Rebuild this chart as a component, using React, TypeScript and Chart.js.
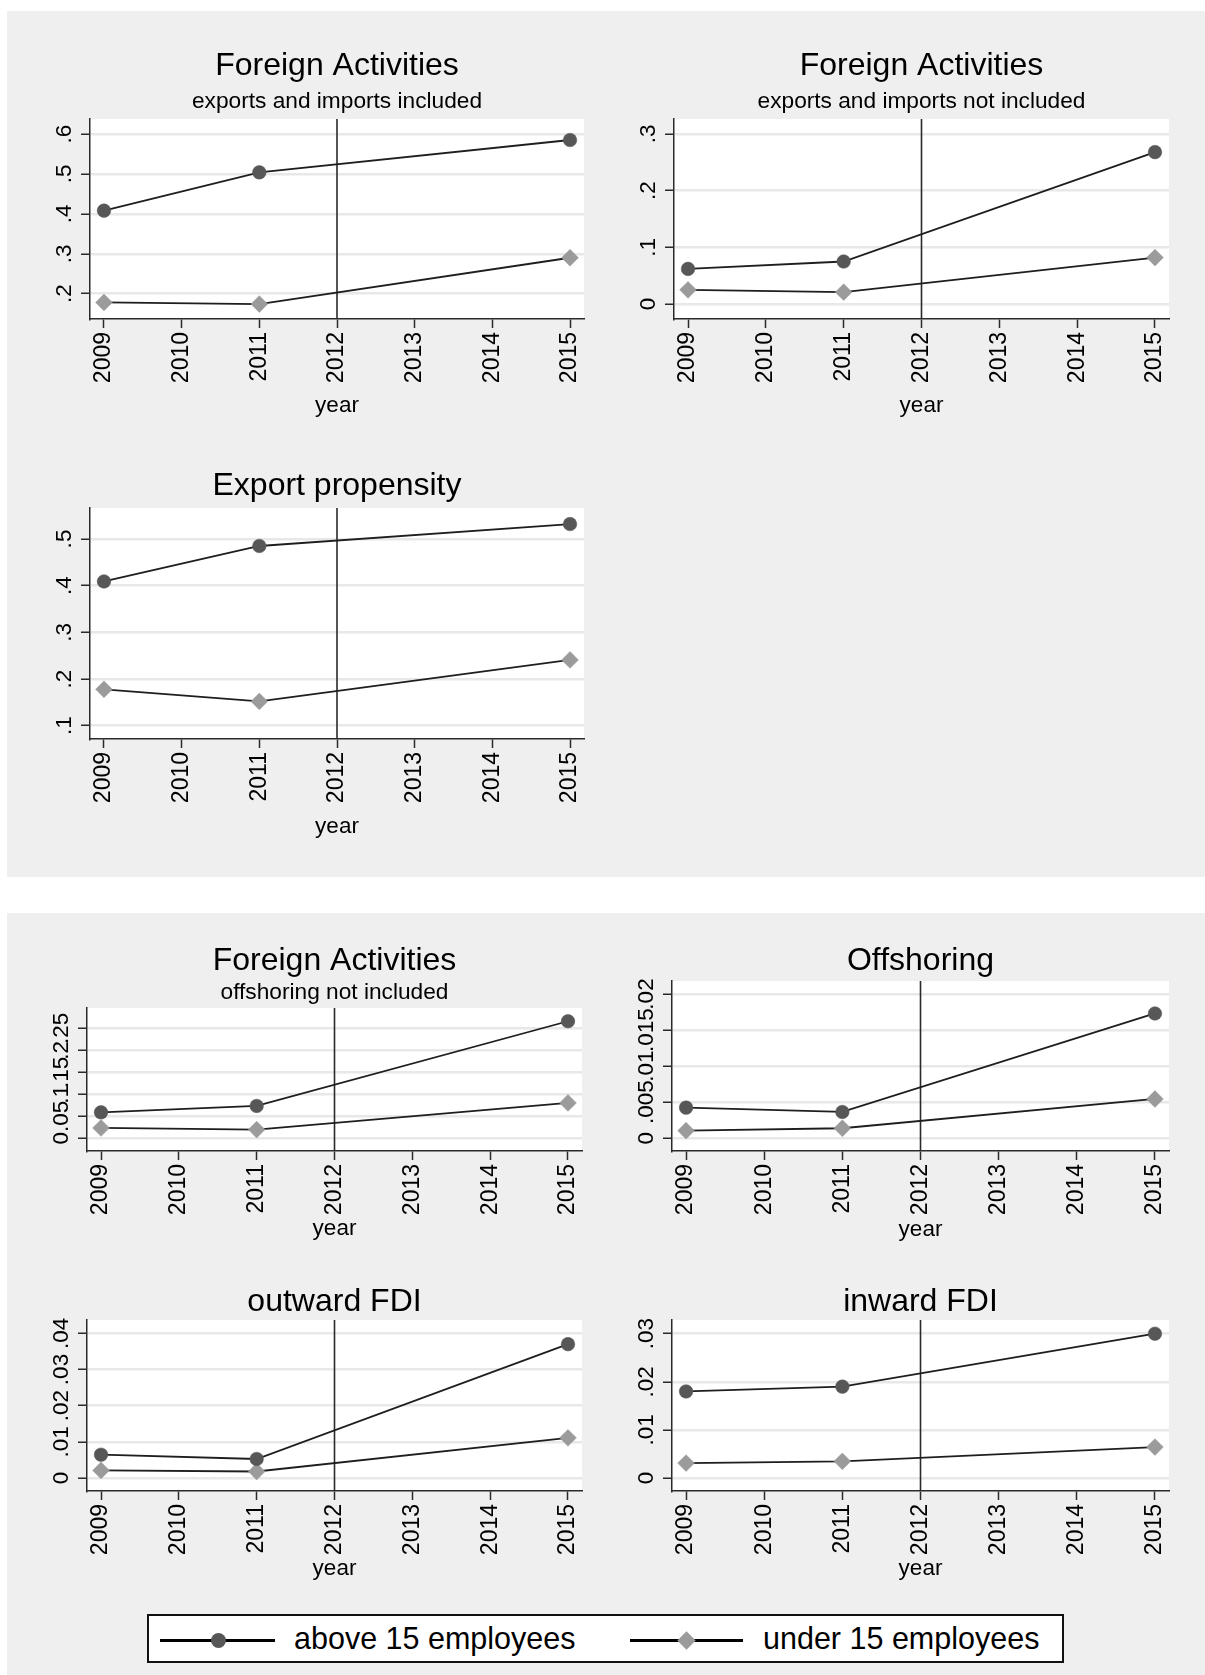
import React, { useEffect, useRef } from 'react';
import { Chart, registerables } from 'chart.js';

Chart.register(...registerables);

// ---------------- data ----------------
const years = [2009, 2011, 2015];
const xTickYears = [2009, 2010, 2011, 2012, 2013, 2014, 2015];
const referenceYear = 2012;
const seriesLabels = ['above 15 employees', 'under 15 employees'];

const faInclAbove = [0.408, 0.504, 0.585];
const faInclUnder = [0.178, 0.174, 0.29];
const faInclTicks = [0.2, 0.3, 0.4, 0.5, 0.6];
const faInclTickLabels = ['.2', '.3', '.4', '.5', '.6'];

const faNotInclAbove = [0.062, 0.075, 0.268];
const faNotInclUnder = [0.025, 0.021, 0.082];
const faNotInclTicks = [0, 0.1, 0.2, 0.3];
const faNotInclTickLabels = ['0', '.1', '.2', '.3'];

const exportAbove = [0.409, 0.485, 0.532];
const exportUnder = [0.178, 0.152, 0.241];
const exportTicks = [0.1, 0.2, 0.3, 0.4, 0.5];
const exportTickLabels = ['.1', '.2', '.3', '.4', '.5'];

const faNoOffAbove = [0.059, 0.0735, 0.266];
const faNoOffUnder = [0.0235, 0.0197, 0.0803];
const faNoOffTicks = [0, 0.05, 0.1, 0.15, 0.2, 0.25];
const faNoOffTickLabels = ['0', '.05', '.1', '.15', '.2', '.25'];

const offshoringAbove = [0.00425, 0.00365, 0.0173];
const offshoringUnder = [0.00106, 0.00139, 0.00545];
const offshoringTicks = [0, 0.005, 0.01, 0.015, 0.02];
const offshoringTickLabels = ['0', '.005', '.01', '.015', '.02'];

const outFdiAbove = [0.00645, 0.00525, 0.037];
const outFdiUnder = [0.0021, 0.0018, 0.0111];
const outFdiTicks = [0, 0.01, 0.02, 0.03, 0.04];
const outFdiTickLabels = ['0', '.01', '.02', '.03', '.04'];

const inFdiAbove = [0.018, 0.019, 0.03];
const inFdiUnder = [0.0031, 0.00347, 0.00644];
const inFdiTicks = [0, 0.01, 0.02, 0.03];
const inFdiTickLabels = ['0', '.01', '.02', '.03'];

// ---------------- styles ----------------
const FONT = '"Liberation Sans", Arial, Helvetica, sans-serif';
const GRAY_BG = '#efefef';
const GRID = '#e8e8e8';
const AXIS = '#2a2a2a';
const TEXT = '#000000';
const LINE = '#1e1e1e';
const ABOVE_COLOR = '#575757';
const UNDER_COLOR = '#9b9b9b';
const TITLE_SIZE = 32;
const SUB_SIZE = 22.7;
const TICK_SIZE = 23;
const Y_TICK_SIZE = 22.5;
const AXIS_TITLE_SIZE = 22.5;
const YW = 70;
const PR = 20;
const X_MIN = 2008.82;
const X_MAX = 2015.18;

type Panel = {
  key: string;
  title: string;
  subtitle?: string;
  above: number[];
  under: number[];
  yTicks: number[];
  yLabels: string[];
  yMin: number;
  yMax: number;
  area: { l: number; r: number; t: number; b: number };
  canvasTop: number;
  titleMid: number;
  subMid?: number;
  yearMid: number;
};

const panels: Panel[] = [
  {
    key: 'fa1', title: 'Foreign Activities', subtitle: 'exports and imports included',
    above: faInclAbove, under: faInclUnder, yTicks: faInclTicks, yLabels: faInclTickLabels,
    yMin: 0.1366, yMax: 0.6376,
    area: { l: 90, r: 584, t: 119, b: 319 }, canvasTop: 40, titleMid: 66.3, subMid: 101.8, yearMid: 405.5,
  },
  {
    key: 'fa2', title: 'Foreign Activities', subtitle: 'exports and imports not included',
    above: faNotInclAbove, under: faNotInclUnder, yTicks: faNotInclTicks, yLabels: faNotInclTickLabels,
    yMin: -0.0264, yMax: 0.3264,
    area: { l: 674, r: 1169, t: 119, b: 319 }, canvasTop: 40, titleMid: 66.3, subMid: 101.8, yearMid: 405.5,
  },
  {
    key: 'exp', title: 'Export propensity',
    above: exportAbove, under: exportUnder, yTicks: exportTicks, yLabels: exportTickLabels,
    yMin: 0.0715, yMax: 0.5664,
    area: { l: 90, r: 584, t: 508, b: 739 }, canvasTop: 460, titleMid: 486, yearMid: 826,
  },
  {
    key: 'fa3', title: 'Foreign Activities', subtitle: 'offshoring not included',
    above: faNoOffAbove, under: faNoOffUnder, yTicks: faNoOffTicks, yLabels: faNoOffTickLabels,
    yMin: -0.0289, yMax: 0.2961,
    area: { l: 87, r: 582, t: 1008, b: 1151 }, canvasTop: 935, titleMid: 961.3, subMid: 992.5, yearMid: 1228.5,
  },
  {
    key: 'off', title: 'Offshoring',
    above: offshoringAbove, under: offshoringUnder, yTicks: offshoringTicks, yLabels: offshoringTickLabels,
    yMin: -0.00176, yMax: 0.0218,
    area: { l: 672, r: 1169, t: 981, b: 1151 }, canvasTop: 935, titleMid: 961.3, yearMid: 1229,
  },
  {
    key: 'out', title: 'outward FDI',
    above: outFdiAbove, under: outFdiUnder, yTicks: outFdiTicks, yLabels: outFdiTickLabels,
    yMin: -0.00359, yMax: 0.04368,
    area: { l: 87, r: 582, t: 1320, b: 1491 }, canvasTop: 1273, titleMid: 1302, yearMid: 1568,
  },
  {
    key: 'in', title: 'inward FDI',
    above: inFdiAbove, under: inFdiUnder, yTicks: inFdiTicks, yLabels: inFdiTickLabels,
    yMin: -0.0027, yMax: 0.03285,
    area: { l: 672, r: 1169, t: 1320, b: 1491 }, canvasTop: 1273, titleMid: 1302, yearMid: 1568,
  },
];

function ChartPanel({ p }: { p: Panel }) {
  const ref = useRef<HTMLCanvasElement | null>(null);
  const width = p.area.r - p.area.l + YW + PR;
  const axisLH = AXIS_TITLE_SIZE * 1.2;
  const height = Math.round(p.area.b + (p.yearMid - p.area.b + axisLH / 2) - p.canvasTop);
  const xh = p.canvasTop + height - p.area.b;

  useEffect(() => {
    const canvas = ref.current;
    if (!canvas) return;
    const tLH = TITLE_SIZE * 1.0;
    const sLH = SUB_SIZE * 1.0;
    const titlePadTop = p.titleMid - tLH / 2 - p.canvasTop;
    let titlePadBottom = 0;
    let subPadTop = 0;
    let subPadBottom = 0;
    if (p.subtitle && p.subMid !== undefined) {
      subPadTop = p.subMid - sLH / 2 - (p.titleMid + tLH / 2);
      subPadBottom = p.area.t - (p.subMid + sLH / 2);
    } else {
      titlePadBottom = p.area.t - (p.titleMid + tLH / 2);
    }

    const plotBg = {
      id: 'plotBg',
      beforeDraw(chart: any) {
        const { ctx, chartArea: a } = chart;
        ctx.save();
        ctx.fillStyle = '#ffffff';
        ctx.fillRect(a.left, a.top, a.right - a.left, a.bottom - a.top);
        ctx.restore();
      },
    };
    const refLine = {
      id: 'refLine',
      beforeDatasetsDraw(chart: any) {
        const { ctx, chartArea: a } = chart;
        const x = chart.scales.x.getPixelForValue(referenceYear);
        ctx.save();
        ctx.strokeStyle = '#2a2a2a';
        ctx.lineWidth = 1.6;
        ctx.beginPath();
        ctx.moveTo(x, a.top);
        ctx.lineTo(x, a.bottom);
        ctx.stroke();
        ctx.restore();
      },
    };
    const yLabelPlugin = {
      id: 'yTickLabels',
      afterDraw(chart: any) {
        const { ctx, chartArea: a } = chart;
        const ys = chart.scales.y;
        ctx.save();
        ctx.font = `${Y_TICK_SIZE}px ${FONT}`;
        ctx.fillStyle = TEXT;
        ctx.textAlign = 'center';
        ctx.textBaseline = 'alphabetic';
        p.yTicks.forEach((v, i) => {
          const py = ys.getPixelForValue(v);
          ctx.save();
          ctx.translate(a.left - 19, py);
          ctx.rotate(-Math.PI / 2);
          ctx.fillText(p.yLabels[i], 0, 0);
          ctx.restore();
        });
        ctx.restore();
      },
    };

    const chart = new Chart(canvas, {
      type: 'line',
      data: {
        datasets: [
          {
            label: seriesLabels[0],
            data: years.map((x, i) => ({ x, y: p.above[i] })),
            borderColor: LINE,
            borderWidth: 1.8,
            pointStyle: 'circle',
            pointRadius: 6.8,
            pointBackgroundColor: ABOVE_COLOR,
            pointBorderColor: ABOVE_COLOR,
            pointBorderWidth: 0.5,
            tension: 0,
            fill: false,
          },
          {
            label: seriesLabels[1],
            data: years.map((x, i) => ({ x, y: p.under[i] })),
            borderColor: LINE,
            borderWidth: 1.8,
            pointStyle: 'rectRot',
            pointRadius: 8.4,
            pointBackgroundColor: UNDER_COLOR,
            pointBorderColor: UNDER_COLOR,
            pointBorderWidth: 0.5,
            tension: 0,
            fill: false,
          },
        ],
      },
      options: {
        animation: false,
        responsive: false,
        events: [],
        layout: { padding: { left: 0, right: PR, top: 0, bottom: 0 } },
        plugins: {
          legend: { display: false },
          tooltip: { enabled: false },
          title: {
            display: true,
            text: p.title,
            fullSize: false,
            color: TEXT,
            font: { family: FONT, size: TITLE_SIZE, weight: 'normal', lineHeight: 1.0 },
            padding: { top: titlePadTop, bottom: titlePadBottom },
          },
          subtitle: {
            display: !!p.subtitle,
            text: p.subtitle || '',
            fullSize: false,
            color: TEXT,
            font: { family: FONT, size: SUB_SIZE, weight: 'normal', lineHeight: 1.0 },
            padding: { top: subPadTop, bottom: subPadBottom },
          },
        } as any,
        scales: {
          x: {
            type: 'linear',
            min: X_MIN,
            max: X_MAX,
            afterBuildTicks: (s: any) => {
              s.ticks = xTickYears.map((v) => ({ value: v }));
            },
            afterFit: (s: any) => {
              s.height = xh;
            },
            ticks: {
              callback: (v: any) => String(v),
              minRotation: 90,
              maxRotation: 90,
              autoSkip: false,
              color: TEXT,
              padding: 4,
              font: { family: FONT, size: TICK_SIZE },
            },
            grid: {
              display: true,
              drawOnChartArea: false,
              drawTicks: true,
              tickLength: 9,
              tickColor: AXIS,
              tickWidth: 1.5,
            },
            border: { display: true, color: AXIS, width: 1.5 },
            title: {
              display: true,
              text: 'year',
              color: TEXT,
              padding: 0,
              font: { family: FONT, size: AXIS_TITLE_SIZE, lineHeight: 1.2 },
            },
          },
          y: {
            type: 'linear',
            min: p.yMin,
            max: p.yMax,
            afterBuildTicks: (s: any) => {
              s.ticks = p.yTicks.map((v) => ({ value: v }));
            },
            afterFit: (s: any) => {
              s.width = YW;
            },
            ticks: { display: false },
            grid: {
              display: true,
              drawOnChartArea: true,
              color: GRID,
              lineWidth: 2.5,
              drawTicks: true,
              tickLength: 9,
              tickColor: AXIS,
              tickWidth: 1.5,
            },
            border: { display: true, color: AXIS, width: 1.5 },
          },
        } as any,
      },
      plugins: [plotBg, refLine, yLabelPlugin],
    } as any);
    return () => chart.destroy();
  }, []);

  return (
    <canvas
      ref={ref}
      width={width}
      height={height}
      style={{
        position: 'absolute',
        left: p.area.l - YW,
        top: p.canvasTop,
        width,
        height,
      }}
    />
  );
}

export default function App() {
  const legendText: React.CSSProperties = {
    position: 'absolute',
    top: 1620,
    fontFamily: FONT,
    fontSize: 30.5,
    lineHeight: '36px',
    color: TEXT,
    whiteSpace: 'nowrap',
  };
  return (
    <div
      style={{
        position: 'absolute',
        left: 0,
        top: 0,
        width: 1205,
        height: 1675,
        background: '#ffffff',
        overflow: 'hidden',
        fontFamily: FONT,
      }}
    >
      <div style={{ position: 'absolute', left: 7, top: 11, width: 1198, height: 866, background: GRAY_BG }} />
      <div style={{ position: 'absolute', left: 7, top: 913, width: 1198, height: 762, background: GRAY_BG }} />
      {panels.map((p) => (
        <ChartPanel key={p.key} p={p} />
      ))}
      {/* legend */}
      <div
        style={{
          position: 'absolute',
          left: 147,
          top: 1614,
          width: 917,
          height: 49,
          boxSizing: 'border-box',
          border: '2px solid #111',
          background: '#ffffff',
        }}
      />
      <div style={{ position: 'absolute', left: 160, top: 1638.5, width: 115, height: 3, background: '#000' }} />
      <div
        style={{
          position: 'absolute',
          left: 218 - 7.5,
          top: 1640 - 7.5,
          width: 15,
          height: 15,
          borderRadius: '50%',
          background: ABOVE_COLOR,
        }}
      />
      <div style={{ ...legendText, left: 294 }}>{seriesLabels[0]}</div>
      <div style={{ position: 'absolute', left: 630, top: 1638.5, width: 113, height: 3, background: '#000' }} />
      <div
        style={{
          position: 'absolute',
          left: 686 - 6.5,
          top: 1640 - 6.5,
          width: 13,
          height: 13,
          transform: 'rotate(45deg)',
          background: UNDER_COLOR,
        }}
      />
      <div style={{ ...legendText, left: 763 }}>{seriesLabels[1]}</div>
    </div>
  );
}
